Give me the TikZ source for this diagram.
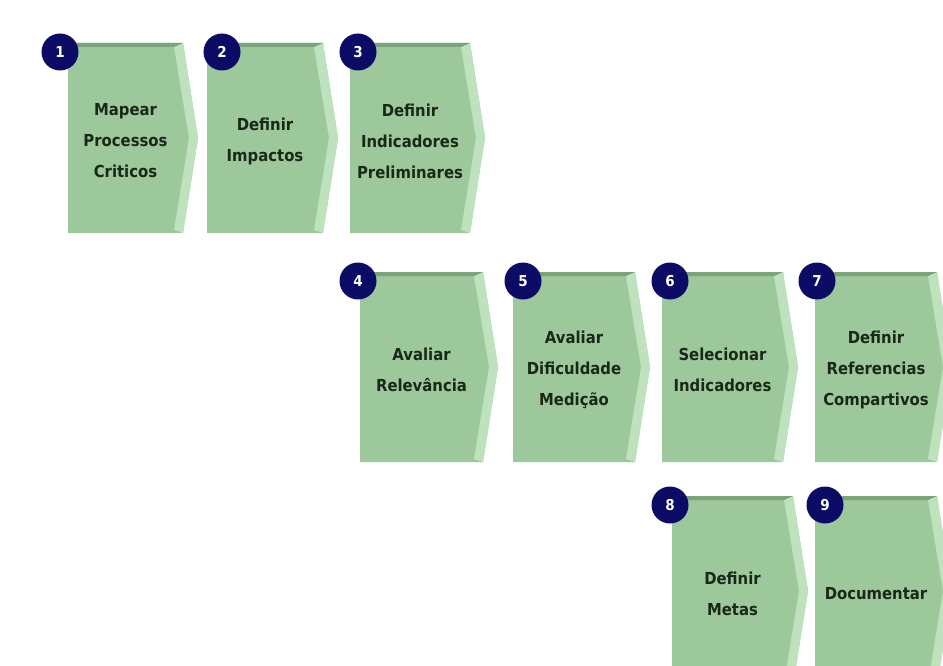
\documentclass[tikz,border=0pt]{standalone}
\usepackage{fontspec}
\setmainfont{DejaVu Sans}[FakeStretch=0.9]
\definecolor{bodygreen}{RGB}{156,200,156}
\definecolor{bevelgreen}{RGB}{190,225,190}
\definecolor{topgreen}{RGB}{124,164,124}
\definecolor{badgeblue}{RGB}{12,12,102}
\definecolor{textdark}{RGB}{26,40,26}
\tikzset{
  steplabel/.style={align=center, text=textdark, inner sep=0pt,
    font=\bfseries\fontsize{16.5}{31}\selectfont},
  badge/.style={circle, fill=badgeblue, minimum size=37pt, inner sep=0pt,
    text=white, font=\bfseries\fontsize{15}{15}\selectfont},
}
% #1 name, #2 left x, #3 top y, #4 body width, #5 height, #6 number, #7 badge x, #8 text
\newcommand\procbox[8]{%
  \fill[bodygreen] (#2,#3) -- ({#2+#4},#3) -- ({#2+#4+15},{#3+#5/2})
      -- ({#2+#4},{#3+#5}) -- (#2,{#3+#5}) -- cycle;
  \fill[bevelgreen] ({#2+#4-9},{#3+4}) -- ({#2+#4},#3) -- ({#2+#4+15},{#3+#5/2})
      -- ({#2+#4},{#3+#5}) -- ({#2+#4-9},{#3+#5-3}) -- ({#2+#4+6},{#3+#5/2}) -- cycle;
  \fill[topgreen] (#2,#3) -- ({#2+#4},#3) -- ({#2+#4-9},{#3+4}) -- (#2,{#3+4}) -- cycle;
  \node[steplabel] (#1) at ({#2+#4/2},{#3+#5/2+3}) {#8};
  \node[badge] (#1n) at (#7,{#3+9}) {#6};
}
\begin{document}
\begin{tikzpicture}[x=1pt, y=-1pt]
  \useasboundingbox (0,0) rectangle (943,666);
  \clip (0,0) rectangle (943,666);
  \fill[white] (0,0) rectangle (943,666);
  % first row
  \procbox{s1}{68}{43}{115}{190}{1}{60}{Mapear\\Processos\\Criticos}
  \procbox{s2}{207}{43}{116}{190}{2}{222}{Definir\\Impactos}
  \procbox{s3}{350}{43}{120}{190}{3}{358}{Definir\\Indicadores\\Preliminares}
  % second row
  \procbox{s4}{360}{272}{123}{190}{4}{358}{Avaliar\\Relevância}
  \procbox{s5}{513}{272}{122}{190}{5}{523}{Avaliar\\Dificuldade\\Medição}
  \procbox{s6}{662}{272}{121}{190}{6}{670}{Selecionar\\Indicadores}
  \procbox{s7}{815}{272}{122}{190}{7}{817}{Definir\\Referencias\\Compartivos}
  % third row
  \procbox{s8}{672}{496}{121}{190}{8}{670}{Definir\\Metas}
  \procbox{s9}{815}{496}{122}{190}{9}{825}{Documentar}
\end{tikzpicture}
\end{document}
